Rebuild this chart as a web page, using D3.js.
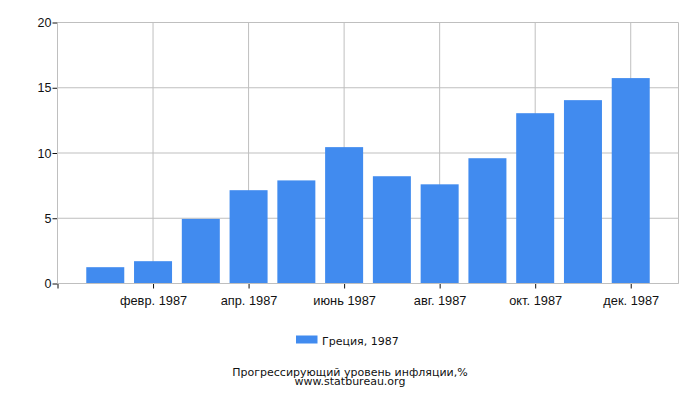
<!DOCTYPE html>
<html lang="ru">
<head>
  <meta charset="UTF-8">
  <title>Греция, 1987</title>
  <script src="https://d3js.org/d3.v7.min.js"></script>
  <style>
    body { margin: 0; background: #fff; }
    svg { font-family: "DejaVu Sans", sans-serif; }
    .grid line { stroke: #bfbfbf; stroke-width: 1; }
    .axis text { fill: #111; }
    .axis line, .axis path { stroke: #111; }
    .caption { font-size: 11px; fill: #111; }
  </style>
</head>
<body>
<div id="chart"></div>
<script>
  // month index: 1 = янв. 1987 ... 12 = дек. 1987
  const months = [1, 2, 3, 4, 5, 6, 7, 8, 9, 10, 11, 12];
  const values = [1.25, 1.71, 4.95, 7.15, 7.9, 10.45, 8.22, 7.6, 9.6, 13.05, 14.05, 15.74];
  const xTicks = [0, 2, 4, 6, 8, 10, 12];
  const xTickLabels = ["", "февр. 1987", "апр. 1987", "июнь 1987", "авг. 1987", "окт. 1987", "дек. 1987"];
  const yTicks = [0, 5, 10, 15, 20];
  const seriesName = "Греция, 1987";

  const width = 700, height = 400;
  const plotLeft = 57.5, plotRight = 678.5, plotTop = 22.5, plotBottom = 283.5;
  const barWidth = 38;

  const svg = d3.select("#chart").append("svg")
      .attr("width", width)
      .attr("height", height);

  const x = d3.scaleLinear().domain([0, 13]).range([plotLeft, plotRight]);
  const y = d3.scaleLinear().domain([0, 20]).range([plotBottom, plotTop]);

  // grid
  const grid = svg.append("g").attr("class", "grid");
  grid.selectAll(".h").data(yTicks).enter().append("line")
      .attr("x1", plotLeft).attr("x2", plotRight)
      .attr("y1", d => y(d)).attr("y2", d => y(d));
  grid.selectAll(".v").data(xTicks.concat([13])).enter().append("line")
      .attr("x1", d => x(d)).attr("x2", d => x(d))
      .attr("y1", plotTop).attr("y2", plotBottom);

  // bars
  svg.selectAll(".bar").data(months).enter().append("rect")
      .attr("x", d => x(d) - barWidth / 2)
      .attr("y", (d, i) => y(values[i]))
      .attr("width", barWidth)
      .attr("height", (d, i) => y(0) - y(values[i]))
      .attr("fill", "#418bef");

  // axes
  svg.append("g").attr("class", "axis")
      .attr("transform", `translate(${plotLeft},0)`)
      .call(d3.axisLeft(y).tickValues(yTicks).tickSize(5).tickPadding(1))
      .call(g => g.select(".domain").remove())
      .call(g => g.selectAll("text").style("font-size", "12.5px"));

  svg.append("g").attr("class", "axis")
      .attr("transform", `translate(0,${plotBottom})`)
      .call(d3.axisBottom(x).tickValues(xTicks)
          .tickFormat((d, i) => xTickLabels[i]).tickSize(5).tickPadding(7))
      .call(g => g.select(".domain").remove())
      .call(g => g.selectAll("text").style("font-size", "12.8px"));

  svg.append("line")
      .attr("x1", plotLeft).attr("x2", plotRight)
      .attr("y1", plotBottom).attr("y2", plotBottom)
      .attr("stroke", "#bfbfbf");
  svg.append("line")
      .attr("x1", plotLeft).attr("x2", plotLeft)
      .attr("y1", plotTop).attr("y2", plotBottom)
      .attr("stroke", "#bfbfbf");

  // legend
  const legend = svg.append("g");
  legend.append("rect")
      .attr("x", 296).attr("y", 335.5)
      .attr("width", 21.5).attr("height", 8)
      .attr("fill", "#418bef");
  legend.append("text")
      .attr("class", "caption")
      .attr("x", 322).attr("y", 345)
      .text(seriesName);

  svg.append("text").attr("class", "caption")
      .attr("x", 350).attr("y", 376)
      .attr("text-anchor", "middle")
      .text("Прогрессирующий уровень инфляции,%");
  svg.append("text").attr("class", "caption")
      .attr("x", 350).attr("y", 385)
      .attr("text-anchor", "middle")
      .text("www.statbureau.org");
</script>
</body>
</html>
